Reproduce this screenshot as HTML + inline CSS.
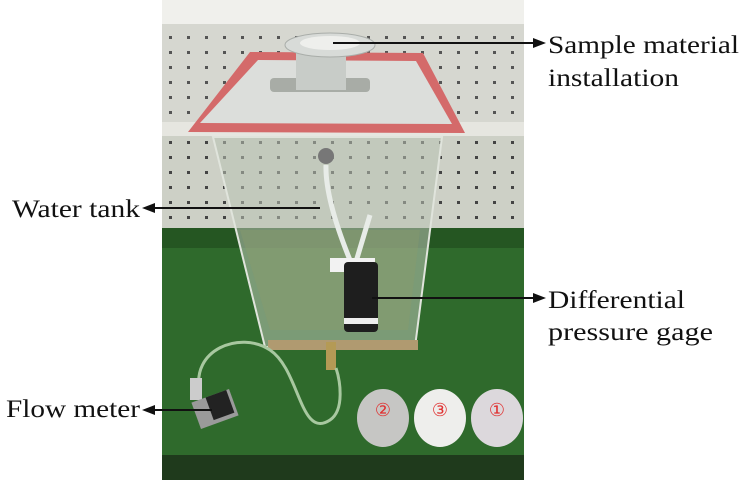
<!DOCTYPE html>
<html><head><meta charset="utf-8"><style>
html,body{margin:0;padding:0;background:#fff;}
svg{display:block;}
.t{font-family:"Liberation Serif","Times New Roman",serif;fill:#111;}
</style></head><body>
<svg width="750" height="480" viewBox="0 0 750 480" xmlns="http://www.w3.org/2000/svg">
<defs>
<pattern id="holes" x="0" y="0" width="18" height="15" patternUnits="userSpaceOnUse">
<rect width="18" height="15" fill="#d6d7d0"/>
<rect x="7" y="6" width="3" height="3" fill="#555"/>
</pattern>
<pattern id="holes2" x="0" y="0" width="18" height="15" patternUnits="userSpaceOnUse">
<rect width="18" height="15" fill="#cdd0c6"/>
<rect x="7" y="6" width="3" height="3" fill="#444"/>
</pattern>
</defs>
<rect x="162" y="0" width="362" height="480" fill="#f0f0ec"/>
<rect x="162" y="24" width="362" height="98" fill="url(#holes)"/>
<rect x="162" y="122" width="362" height="14" fill="#e6e6e0"/>
<rect x="162" y="136" width="362" height="92" fill="url(#holes2)"/>
<rect x="162" y="228" width="362" height="252" fill="#2f6a2c"/>
<rect x="162" y="228" width="362" height="20" fill="#255622"/>
<rect x="162" y="455" width="362" height="25" fill="#1f3a1c"/>
<polygon points="213,137 442,137 415,347 265,347" fill="#b9c2b4" fill-opacity="0.55" stroke="#e0e4dc" stroke-width="2"/>
<polygon points="240,230 420,230 408,330 270,330" fill="#8c9a6c" fill-opacity="0.4"/>
<rect x="268" y="340" width="150" height="10" fill="#b09a70"/>
<polygon points="250,52 423,53 465,133 188,132" fill="#d46a6a"/>
<polygon points="258,60 416,61 452,124 200,123" fill="#dcdedb"/>
<rect x="270" y="78" width="100" height="14" rx="4" fill="#a8aca6"/>
<rect x="296" y="48" width="50" height="42" fill="#c8ccc8"/>
<ellipse cx="330" cy="45" rx="45" ry="12" fill="#d8dbd8" stroke="#a9ada9"/>
<ellipse cx="330" cy="43" rx="30" ry="7" fill="#eeefec"/>
<circle cx="326" cy="156" r="8" fill="#777"/>
<path d="M326,165 Q325,200 352,265" stroke="#e8ece8" stroke-width="5" fill="none"/>
<path d="M370,215 L355,265" stroke="#e8ece8" stroke-width="5" fill="none"/>
<rect x="330" y="258" width="45" height="14" fill="#f2f2f2"/>
<rect x="344" y="262" width="34" height="70" rx="4" fill="#1e1e1e"/>
<rect x="344" y="318" width="34" height="6" fill="#eee"/>
<rect x="326" y="342" width="10" height="28" fill="#b49a55"/>
<path d="M200,392 C190,350 240,330 270,350 C300,370 300,440 330,420 C345,410 340,380 336,368" stroke="#a8c8a0" stroke-width="3" fill="none"/>
<rect x="190" y="378" width="12" height="22" fill="#ccc"/>
<rect x="195" y="395" width="40" height="28" fill="#9a9a9a" transform="rotate(-20 215 409)"/>
<rect x="210" y="395" width="22" height="24" fill="#222" transform="rotate(-20 215 409)"/>
<ellipse cx="383" cy="418" rx="26" ry="29" fill="#c6c6c4"/>
<ellipse cx="440" cy="418" rx="26" ry="29" fill="#eeeeec"/>
<ellipse cx="497" cy="418" rx="26" ry="29" fill="#dcd8dc"/>
<text class="t" x="383" y="416" font-size="18" text-anchor="middle" style="fill:#e03030">②</text>
<text class="t" x="440" y="416" font-size="18" text-anchor="middle" style="fill:#e03030">③</text>
<text class="t" x="497" y="416" font-size="18" text-anchor="middle" style="fill:#e03030">①</text>
<g stroke="#111" stroke-width="2">
<line x1="333" y1="43" x2="536" y2="43"/>
<line x1="320" y1="208" x2="152" y2="208"/>
<line x1="372" y1="298" x2="536" y2="298"/>
<line x1="212" y1="410" x2="152" y2="410"/>
</g>
<g fill="#111">
<polygon points="546,43 533,38 533,48"/>
<polygon points="142,208 155,203 155,213"/>
<polygon points="546,298 533,293 533,303"/>
<polygon points="142,410 155,405 155,415"/>
</g>
<g font-family="Liberation Serif, Times New Roman, serif" font-size="25" fill="#111">
<text x="548" y="53" textLength="191" lengthAdjust="spacingAndGlyphs">Sample material</text>
<text x="548" y="86" textLength="131" lengthAdjust="spacingAndGlyphs">installation</text>
<text x="12" y="217" textLength="128" lengthAdjust="spacingAndGlyphs">Water tank</text>
<text x="548" y="308" textLength="137" lengthAdjust="spacingAndGlyphs">Differential</text>
<text x="548" y="340" textLength="165" lengthAdjust="spacingAndGlyphs">pressure gage</text>
<text x="6" y="417" textLength="134" lengthAdjust="spacingAndGlyphs">Flow meter</text>
</g>
</svg>
</body></html>
